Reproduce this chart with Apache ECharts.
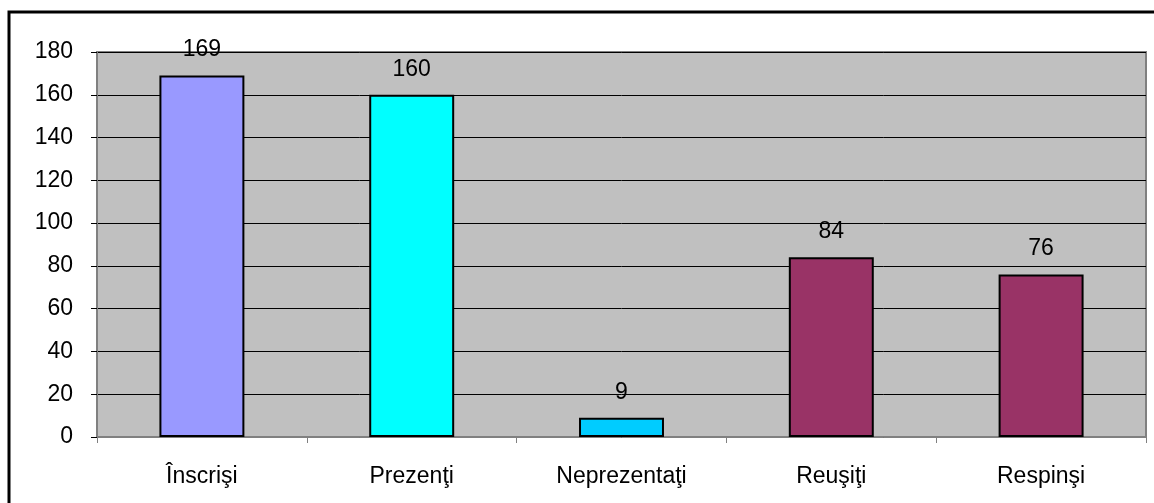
<!DOCTYPE html>
<html><head><meta charset="utf-8">
<script src="https://cdn.jsdelivr.net/npm/echarts@6/dist/echarts.min.js"></script>
<style>html,body{margin:0;padding:0;background:#fff}#c{width:1154px;height:503px}</style>
</head><body><div id="c"></div>
<script>
var categories = ['Înscrişi', 'Prezenţi', 'Neprezentaţi', 'Reuşiţi', 'Respinşi'];
var values = [169, 160, 9, 84, 76];
var barColors = ['#9999FF', '#00FFFF', '#00CCFF', '#993366', '#993366'];
var yTicks = [0, 20, 40, 60, 80, 100, 120, 140, 160, 180];

var chart = echarts.init(document.getElementById('c'), null, {renderer: 'canvas'});
chart.setOption({
  animation: false,
  textStyle: {fontFamily: 'Liberation Sans, Arial, sans-serif'},
  graphic: [{
    type: 'rect', silent: true, z: 100,
    shape: {x: 9, y: 12, width: 1160, height: 510},
    style: {fill: 'none', stroke: '#000', lineWidth: 3}
  }],
  grid: {
    left: 97, right: 8, top: 52, bottom: 66,
    show: true, backgroundColor: '#C0C0C0', borderColor: '#808080', borderWidth: 2
  },
  xAxis: {
    type: 'category', data: categories,
    axisLine: {show: true, lineStyle: {color: '#808080', width: 1}},
    axisTick: {show: true, length: 6, lineStyle: {color: '#808080'}},
    axisLabel: {color: '#000', fontSize: 23, margin: 28, fontFamily: 'Liberation Sans'}
  },
  yAxis: {
    type: 'value', min: yTicks[0], max: yTicks[yTicks.length - 1], interval: 20,
    axisLine: {show: true, lineStyle: {color: '#808080', width: 1}},
    axisTick: {show: true, length: 6, lineStyle: {color: '#000'}},
    splitLine: {show: true, lineStyle: {color: '#000', width: 1}},
    axisLabel: {color: '#000', fontSize: 23, margin: 24, fontFamily: 'Liberation Sans'}
  },
  series: [{
    type: 'bar',
    data: values.map(function (v, i) {
      return {value: v, itemStyle: {color: barColors[i]}};
    }),
    barWidth: '40.5%',
    itemStyle: {borderColor: '#000', borderWidth: 2},
    label: {show: true, position: 'top', distance: 14, color: '#000', fontSize: 23, fontFamily: 'Liberation Sans'}
  }]
});
</script></body></html>
